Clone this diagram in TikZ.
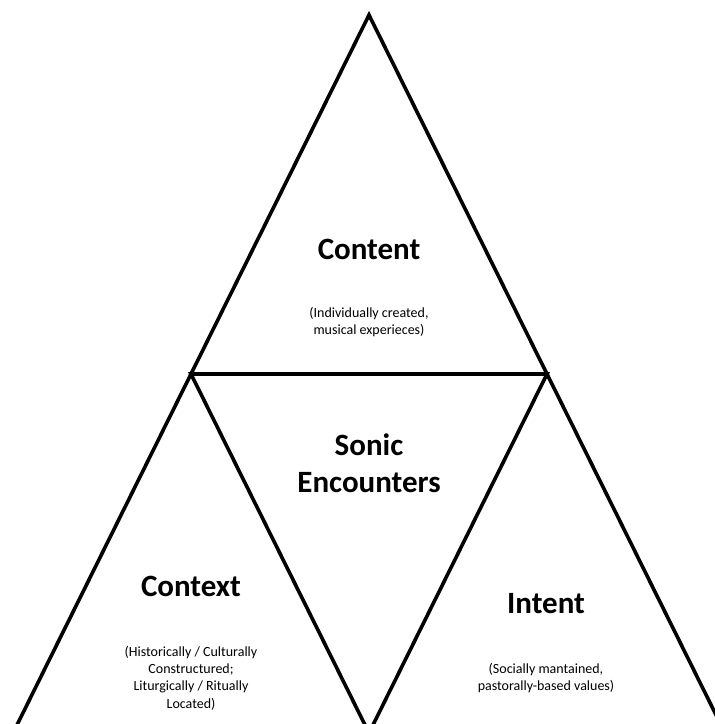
\documentclass[tikz,border=0pt]{standalone}
\usepackage{fontspec}
\setmainfont{Carlito}
\usepackage{tikz}
\usetikzlibrary{positioning}

\begin{document}
\begin{tikzpicture}[
    x=1pt, y=-1pt,
    line_style/.style={draw=black, line width=3.6pt, line join=miter},
    title_style/.style={font=\bfseries\fontsize{31}{37}\selectfont, align=center, inner sep=0pt},
    note_style/.style={font=\fontsize{14}{17.4}\selectfont, align=center, inner sep=0pt}
]

% Frame
\useasboundingbox (0,0) rectangle (715,724);
\clip (0,0) rectangle (715,724);

% Corners
\coordinate (Top) at (369,15);
\coordinate (BL) at (13,733);
\coordinate (BR) at (725,733);
\coordinate (ML) at (191,374);
\coordinate (MR) at (547,374);
\coordinate (MB) at (369,733);

% Outer triangle
\draw[line_style] (Top) -- (BR) -- (BL) -- cycle;

% Inner triangle
\draw[line_style] (ML) -- (MR) -- (MB) -- cycle;

% Top
\node[title_style] (CT) at (369,249) {Content};
\node[note_style] (CTnote) at (369,322) {(Individually created,\\musical experieces)};

% Middle
\node[title_style] (SE) at (369,463) {Sonic\\Encounters};

% Left
\node[title_style] (CX) at (191,586) {Context};
\node[note_style] (CXnote) at (191,678) {(Historically / Culturally\\Constructured;\\Liturgically / Ritually\\Located)};

% Right
\node[title_style] (IN) at (546,604) {Intent};
\node[note_style] (INnote) at (546,678) {(Socially mantained,\\pastorally-based values)};

\end{tikzpicture}
\end{document}
